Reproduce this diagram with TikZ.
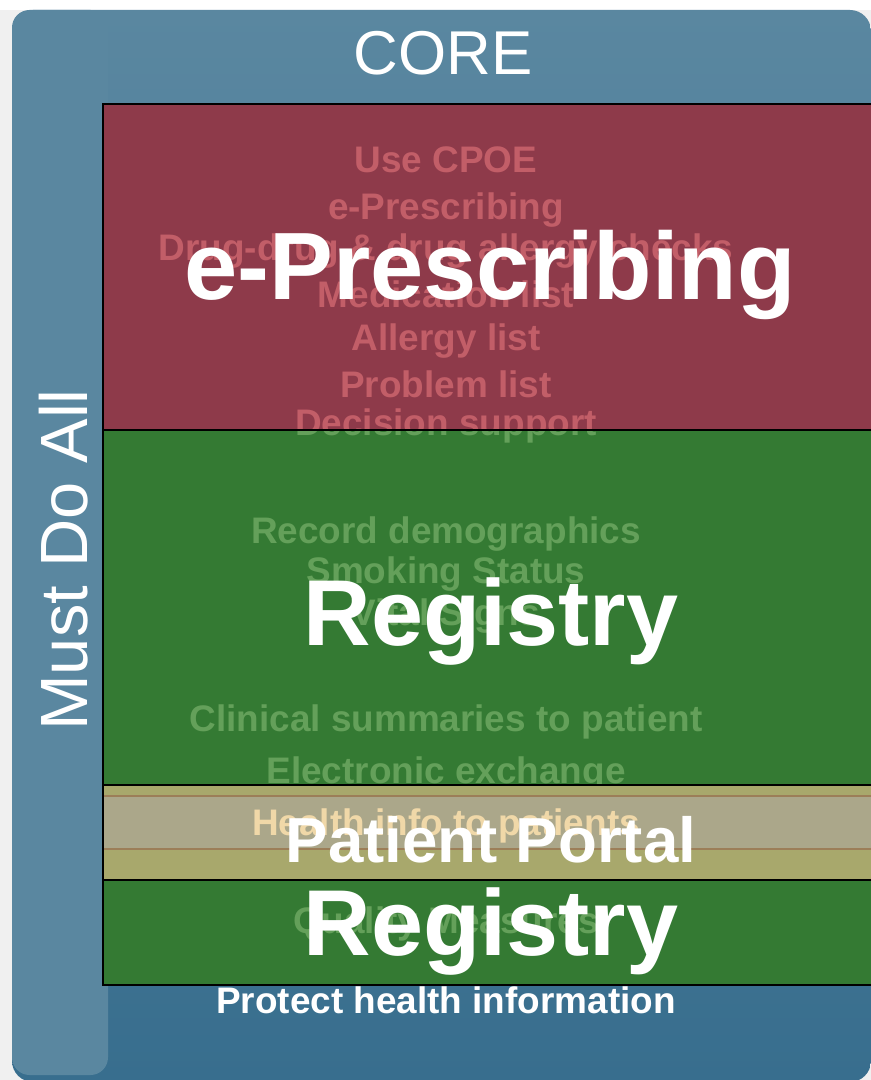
\documentclass[tikz,border=0pt]{standalone}
\usepackage{fontspec}
\setmainfont{Liberation Sans}

\definecolor{framelight}{HTML}{5A87A0}
\definecolor{framedark}{HTML}{386E8E}
\definecolor{rxred}{HTML}{8E3A4A}
\definecolor{rxghost}{HTML}{C25E68}
\definecolor{reggreen}{HTML}{347A33}
\definecolor{regghost}{HTML}{64A05A}
\definecolor{portalkhaki}{HTML}{A8A86C}
\definecolor{portalstripe}{HTML}{ABA78A}
\definecolor{portalline}{HTML}{9C7E58}
\definecolor{portalghost}{HTML}{F0D8A8}
\definecolor{bggrey}{HTML}{F0F0F0}

\tikzset{
    biglabel/.style={text=white,anchor=base,inner sep=0pt,font=\bfseries\fontsize{26.6}{30}\selectfont},
    ghost/.style={anchor=base,inner sep=0pt,font=\bfseries\fontsize{10.5}{12}\selectfont},
    band/.style={draw=black,line width=0.6pt}
}

\begin{document}
\begin{tikzpicture}[x=0.01cm,y=-0.01cm]
    \useasboundingbox (0,0) rectangle (871,1080);
    \fill[bggrey] (0,0) rectangle (871,1080);
    \fill[white] (0,0) rectangle (871,10);
    % frame
    \shade[top color=framelight,middle color=framelight,bottom color=framedark,rounded corners=6pt] (12,10) rectangle (871,1082);
    \fill[framelight,rounded corners=5pt] (12,10) rectangle (108,1075);
    \node[text=white,anchor=base,inner sep=0pt,font=\fontsize{17.6}{20}\selectfont] (core) at (443,75) {CORE};
    \node[text=white,anchor=base,inner sep=0pt,rotate=90,font=\fontsize{19}{22}\selectfont] (mustdo) at (87,560) {Must Do All};
    % bands
    \fill[rxred] (103,104) rectangle (880,430);
    \fill[reggreen] (103,430) rectangle (880,785);
    \fill[portalkhaki] (103,785) rectangle (880,880);
    \draw[portalline,fill=portalstripe,line width=0.7pt] (103,796) rectangle (880,849);
    \fill[reggreen] (103,880) rectangle (880,985);
    % faded items
    \begin{scope}
        \clip (103,104) rectangle (880,430);
        \foreach \t/\y [count=\i] in {Use CPOE/173,e-Prescribing/220,Drug-drug \& drug allergy checks/261,Medication list/308,Allergy list/351,Problem list/398,Decision support/436}
            \node[ghost,text=rxghost] (rx\i) at (446,\y) {\t};
    \end{scope}
    \begin{scope}
        \clip (103,430) rectangle (880,785);
        \node[ghost,text=regghost] (dec) at (446,436) {Decision support};
        \foreach \t/\y [count=\i] in {Record demographics/543,Smoking Status/583,Vital Signs/625,Clinical summaries to patient/731,Electronic exchange/783}
            \node[ghost,text=regghost] (reg\i) at (446,\y) {\t};
    \end{scope}
    \node[ghost,text=portalghost] (health) at (446,835) {Health info to patients};
    \node[ghost,text=regghost] (quality) at (446,933) {Quality Measures};
    \draw[band] (103,104) rectangle (880,430);
    \draw[band] (103,430) rectangle (880,785);
    \draw[band] (103,785) rectangle (880,880);
    \draw[band] (103,880) rectangle (880,985);
    % big labels
    \node[biglabel,font=\bfseries\fontsize{27.2}{30}\selectfont] (erx) at (490,300) {e-Prescribing};
    \node[biglabel] (registry) at (491,645) {Registry};
    \node[biglabel,font=\bfseries\fontsize{18.1}{20}\selectfont] (portal) at (491,862) {Patient Portal};
    \node[biglabel] (quality2) at (491,955) {Registry};
    \node[text=white,anchor=base,inner sep=0pt,font=\bfseries\fontsize{10.5}{12}\selectfont] (protect) at (446,1013) {Protect health information};
\end{tikzpicture}
\end{document}
